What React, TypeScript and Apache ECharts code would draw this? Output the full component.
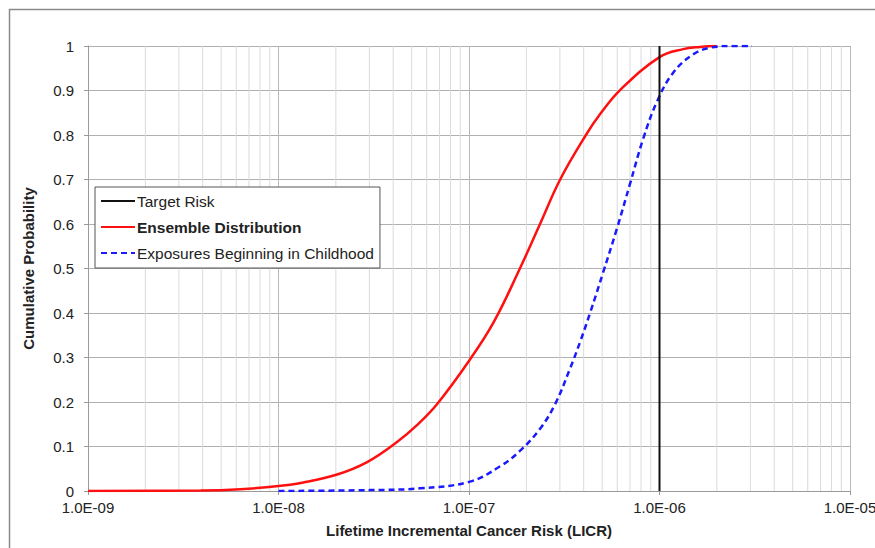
import React, { useEffect, useRef } from "react";
import * as echarts from "echarts";

// Ensemble Distribution (red, solid)
const ensembleRisk = [1e-9, 3.9e-9, 6.3e-9, 1e-8, 1.35e-8, 2.03e-8, 2.92e-8, 4.19e-8, 5.33e-8, 6.79e-8, 1.01e-7, 1.35e-7, 1.85e-7, 2.36e-7, 3.01e-7, 4.11e-7, 4.88e-7, 6.21e-7, 1e-6, 1.33e-6, 1.63e-6, 2.0e-6];
const ensembleProb = [0, 0.001, 0.004, 0.011, 0.019, 0.037, 0.065, 0.11, 0.148, 0.195, 0.295, 0.38, 0.5, 0.6, 0.7, 0.8, 0.847, 0.901, 0.975, 0.993, 0.998, 1.0];

// Exposures Beginning in Childhood (blue, dashed)
const childRisk = [1e-8, 3.02e-8, 5.53e-8, 1.01e-7, 1.45e-7, 1.85e-7, 2.36e-7, 2.83e-7, 3.39e-7, 3.83e-7, 4.32e-7, 5.05e-7, 5.98e-7, 7.0e-7, 8.19e-7, 9.7e-7, 1.18e-6, 1.5e-6, 1.84e-6, 2.34e-6, 3.06e-6];
const childProb = [0, 0.002, 0.006, 0.021, 0.055, 0.09, 0.14, 0.195, 0.275, 0.335, 0.4, 0.49, 0.59, 0.69, 0.79, 0.875, 0.94, 0.981, 0.996, 1.0, 1.0];

// Target risk
const targetRisk = 1e-6;
const targetProb = [0, 1];

// Axis ticks
const decades = [1e-9, 1e-8, 1e-7, 1e-6];
const minorMultipliers = [2, 3, 4, 5, 6, 7, 8, 9];

const legendNames = ["Target Risk", "Ensemble Distribution", "Exposures Beginning in Childhood"];

const FONT = "'Liberation Sans', Arial, sans-serif";

function fmtSci(v: number): string {
  const s = v.toExponential(1);
  const [m, e] = s.split("e");
  const sign = e.startsWith("-") ? "-" : "+";
  const digits = e.replace(/^[-+]/, "").padStart(2, "0");
  return `${m}E${sign}${digits}`;
}

export default function App() {
  const ref = useRef<HTMLDivElement>(null);

  useEffect(() => {
    document.body.style.margin = "0";
    document.body.style.overflow = "hidden";
    if (!ref.current) return;
    const chart = echarts.init(ref.current, undefined, { renderer: "svg" });

    const minorGrid = decades.flatMap((d) => minorMultipliers.map((m) => m * d));
    const minorGridData: any[] = [];
    minorGrid.forEach((v) => {
      minorGridData.push([v, 0], [v, 1], [v, "-"]);
    });

    chart.setOption({
      animation: false,
      backgroundColor: "#ffffff",
      textStyle: { fontFamily: FONT },
      graphic: [
        {
          type: "rect",
          shape: { x: 9.5, y: 9.5, width: 900, height: 600 },
          style: { fill: "none", stroke: "#8a8a8a", lineWidth: 1.5 },
          silent: true,
          z: -10,
        },
      ],
      grid: {
        left: 88,
        top: 46,
        width: 762,
        height: 445,
        containLabel: false,
        outerBoundsMode: "none",
      },
      legend: {
        data: [
          { name: legendNames[0] },
          { name: legendNames[1], textStyle: { fontWeight: "bold" } },
          { name: legendNames[2] },
        ],
        orient: "vertical",
        left: 95,
        top: 187,
        padding: [6, 6, 7, 5],
        itemGap: 10,
        itemWidth: 34,
        itemHeight: 15,
        itemStyle: { opacity: 0 },
        backgroundColor: "#ffffff",
        borderColor: "#555555",
        borderWidth: 1,
        borderRadius: 0,
        textStyle: { fontFamily: FONT, fontSize: 15.5, color: "#222222", padding: [0, 0, 0, -3] },
        selectedMode: false,
      },
      xAxis: {
        type: "log",
        logBase: 10,
        min: 1e-9,
        max: 1e-5,
        name: "Lifetime Incremental Cancer Risk (LICR)",
        nameLocation: "middle",
        nameGap: 32,
        nameTextStyle: { fontFamily: FONT, fontSize: 15, fontWeight: "bold", color: "#222222" },
        axisLine: { show: true, lineStyle: { color: "#9a9a9a", width: 1 } },
        axisTick: { show: true, length: 4, lineStyle: { color: "#9a9a9a" } },
        axisLabel: {
          formatter: (v: number) => fmtSci(v),
          fontFamily: FONT,
          fontSize: 15,
          color: "#222222",
          margin: 9,
        },
        splitLine: { show: true, lineStyle: { color: "#b8b8b8", width: 1 } },
      },
      yAxis: {
        type: "value",
        min: 0,
        max: 1,
        interval: 0.1,
        name: "Cumulative Probability",
        nameLocation: "middle",
        nameGap: 52,
        nameTextStyle: { fontFamily: FONT, fontSize: 15, fontWeight: "bold", color: "#222222" },
        axisLine: { show: true, lineStyle: { color: "#9a9a9a", width: 1 } },
        axisTick: { show: true, length: 4, lineStyle: { color: "#9a9a9a" } },
        axisLabel: {
          formatter: (v: number) => (v === 0 ? "0" : v >= 0.999 ? "1" : v.toFixed(1)),
          fontFamily: FONT,
          fontSize: 15,
          color: "#222222",
          margin: 14,
        },
        splitLine: { show: true, lineStyle: { color: "#b0b0b0", width: 1 } },
      },
      series: [
        {
          name: "minor-grid",
          type: "line",
          data: minorGridData,
          symbol: "none",
          connectNulls: false,
          lineStyle: { color: "#dadada", width: 1 },
          silent: true,
          z: 0,
        },
        {
          name: legendNames[0],
          type: "line",
          data: targetProb.map((p) => [targetRisk, p]),
          symbol: "none",
          lineStyle: { color: "#111111", width: 2 },
          itemStyle: { color: "#111111" },
          z: 5,
        },
        {
          name: legendNames[1],
          type: "line",
          data: ensembleRisk.map((x, i) => [x, ensembleProb[i]]),
          symbol: "none",
          smooth: 0.4,
          lineStyle: { color: "#ff1010", width: 2.5 },
          itemStyle: { color: "#ff1010" },
          z: 3,
        },
        {
          name: legendNames[2],
          type: "line",
          data: childRisk.map((x, i) => [x, childProb[i]]),
          symbol: "none",
          smooth: 0.4,
          lineStyle: { color: "#1a1aff", width: 2.5, type: [6, 4] },
          itemStyle: { color: "#1a1aff" },
          z: 4,
        },
      ],
    });

    return () => chart.dispose();
  }, []);

  return <div ref={ref} style={{ width: 875, height: 548 }} />;
}
